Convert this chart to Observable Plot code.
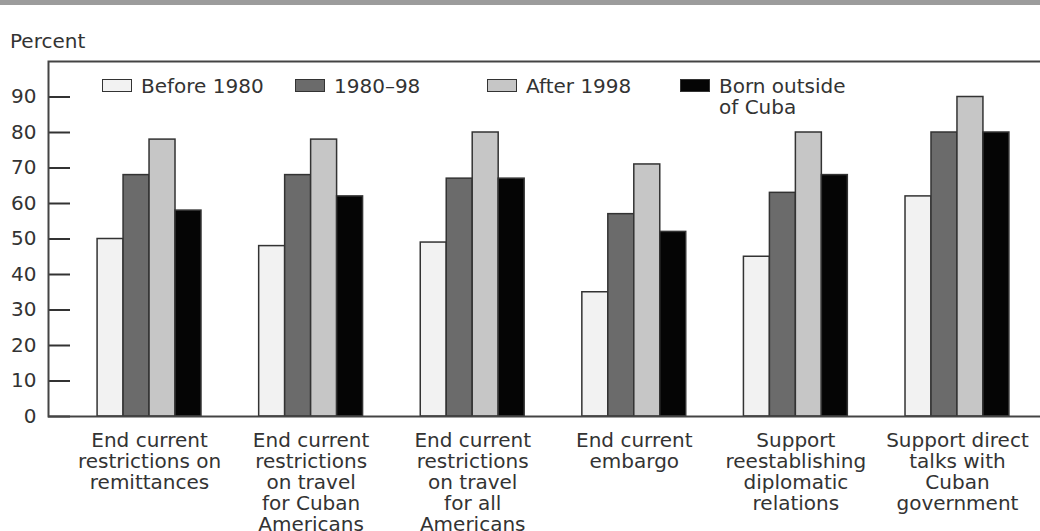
<!DOCTYPE html>
<html><head><meta charset="utf-8">
<script src="https://cdn.jsdelivr.net/npm/d3@7"></script>
<script src="https://cdn.jsdelivr.net/npm/@observablehq/plot@0.6"></script>
<style>
body{margin:0;background:#fff;font-family:"DejaVu Sans",sans-serif;color:#333}
#wrap{position:relative;width:1040px;height:531px;overflow:hidden}
#topbar{position:absolute;left:0;top:0;width:1040px;height:5px;background:#9c9c9c}
#ylabel{position:absolute;left:10px;top:31px;font-size:20px;line-height:21px}
.leg{position:absolute;font-size:20px;line-height:21px;white-space:nowrap}
.sw{position:absolute;width:28px;height:11px;border:1.5px solid #333}
</style></head>
<body><div id="wrap"><div id="chart"></div><div id="topbar"></div><div id="ylabel">Percent</div><div id="legend"></div></div>
<script>
const categories = [
  "End current\nrestrictions on\nremittances",
  "End current\nrestrictions\non travel\nfor Cuban\nAmericans",
  "End current\nrestrictions\non travel\nfor all\nAmericans",
  "End current\nembargo",
  "Support\nreestablishing\ndiplomatic\nrelations",
  "Support direct\ntalks with\nCuban\ngovernment"
];
const series = ["Before 1980", "1980–98", "After 1998", "Born outside\nof Cuba"];
const before1980 = [50, 48, 49, 35, 45, 62];
const from1980to98 = [68, 68, 67, 57, 63, 80];
const after1998 = [78, 78, 80, 71, 80, 90];
const bornOutside = [58, 62, 67, 52, 68, 80];
const colors = ["#f2f2f2", "#6b6b6b", "#c6c6c6", "#050505"];
const yTicks = [0, 10, 20, 30, 40, 50, 60, 70, 80, 90];

const values = [before1980, from1980to98, after1998, bornOutside];
const data = [];
series.forEach((s, i) => categories.forEach((c, j) => data.push({category: c, series: s, value: values[i][j]})));

const xRange = [68, 1038], pIn = 0.357, pOut = 0.18;
const bw = d3.scaleBand().domain(categories).range(xRange).paddingInner(pIn).paddingOuter(pOut).bandwidth();
const nS = series.length;

const barMarks = series.map((s, i) => Plot.barY(data.filter(d => d.series === s), {
  x: "category", y: "value", fill: colors[i], stroke: "#333", strokeWidth: 1.5,
  insetLeft: i * bw / nS, insetRight: (nS - 1 - i) * bw / nS
}));

const chart = Plot.plot({
  width: 1040, height: 531,
  marginLeft: 48, marginRight: -4, marginTop: 61, marginBottom: 115,
  style: {fontFamily: "DejaVu Sans, sans-serif", color: "#333", background: "#fff"},
  x: {domain: categories, range: xRange, paddingInner: pIn, paddingOuter: pOut, round: false, axis: null},
  y: {domain: [0, 100], axis: null},
  marks: [
    ...barMarks,
    Plot.axisY({ticks: yTicks, tickSize: 0, tickPadding: 12, fontSize: 20, label: null, fill: "#333"}),
    Plot.axisY({ticks: yTicks, tickSize: -22, tickFormat: () => "", label: null, stroke: "#333", strokeWidth: 2}),
    Plot.frame({stroke: "#444", strokeWidth: 2}),
    Plot.text(categories, {x: d => d, y: 0, text: d => d, lineAnchor: "top", dy: 15, fontSize: 20, lineHeight: 1.06, fill: "#333"})
  ]
});
document.getElementById("chart").appendChild(chart);

// legend
const legendX = [102, 295, 487, 680];
const leg = document.getElementById("legend");
series.forEach((s, i) => {
  const sw = document.createElement("div");
  sw.className = "sw";
  sw.style.left = legendX[i] + "px";
  sw.style.top = "79px";
  sw.style.background = colors[i];
  leg.appendChild(sw);
  const t = document.createElement("div");
  t.className = "leg";
  t.style.left = (legendX[i] + 39) + "px";
  t.style.top = "76px";
  t.innerHTML = s.split("\n").join("<br>");
  leg.appendChild(t);
});
</script>
</body></html>
